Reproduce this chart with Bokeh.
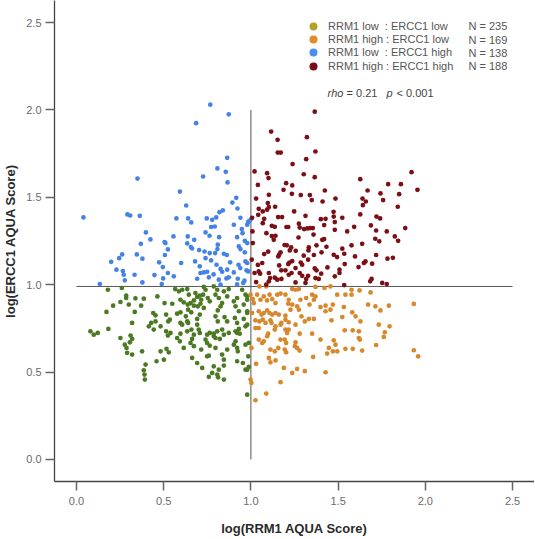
from bokeh.plotting import figure
from bokeh.models import FixedTicker, Legend, LegendItem, Label
from bokeh.embed import file_html
from bokeh.resources import INLINE

# ---------------- data ----------------
x_ticks = [0.0, 0.5, 1.0, 1.5, 2.0, 2.5]
x_tick_labels = ["0.0", "0.5", "1.0", "1.5", "2.0", "2.5"]
y_ticks = [0.0, 0.5, 1.0, 1.5, 2.0, 2.5]
y_tick_labels = ["0.0", "0.5", "1.0", "1.5", "2.0", "2.5"]

group_labels = ["RRM1 low  : ERCC1 low", "RRM1 high : ERCC1 low",
                "RRM1 low  : ERCC1 high", "RRM1 high : ERCC1 high"]
group_n = [235, 169, 138, 188]
rho_value = "0.21"
p_value = "0.001"

cut_x = 1.0            # vertical cut-point line (RRM1)
cut_y = 0.99           # horizontal cut-point line (ERCC1)
vline_y_span = [0.0, 2.0]
hline_x_span = [0.0, 2.5]

low_low = [  # RRM1 low : ERCC1 low
    (0.180,0.971),(0.260,0.981),(0.285,0.937),(0.285,0.924),(0.252,0.901),(0.338,0.922),
    (0.386,0.920),(0.464,0.933),(0.210,0.880),(0.300,0.886),(0.371,0.880),(0.505,0.895),
    (0.549,0.891),(0.172,0.844),(0.334,0.844),(0.440,0.838),(0.453,0.825),(0.514,0.829),
    (0.566,0.975),(0.587,0.962),(0.606,0.971),(0.635,0.975),(0.644,0.943),(0.682,0.952),
    (0.692,0.930),(0.707,0.937),(0.715,0.914),(0.726,0.943),(0.673,0.910),(0.654,0.895),
    (0.730,0.987),(0.740,0.971),(0.753,0.924),(0.764,0.905),(0.596,0.914),(0.615,0.899),
    (0.638,0.886),(0.673,0.880),(0.696,0.876),(0.711,0.891),(0.730,0.867),(0.787,0.990),
    (0.807,0.971),(0.797,0.943),(0.816,0.924),(0.845,0.962),(0.864,0.933),(0.873,0.975),
    (0.826,0.876),(0.810,0.853),(0.835,0.895),(0.902,0.905),(0.912,0.876),(0.931,0.848),
    (0.921,0.924),(0.950,0.971),(0.969,0.943),(0.979,0.914),(0.959,0.886),(0.979,0.838),
    (0.577,0.834),(0.596,0.842),(0.627,0.819),(0.640,0.857),(0.658,0.842),(0.526,0.790),
    (0.535,0.800),(0.596,0.781),(0.606,0.771),(0.635,0.790),(0.640,0.781),(0.692,0.804),
    (0.707,0.829),(0.797,0.819),(0.810,0.790),(0.849,0.815),(0.864,0.790),(0.908,0.810),
    (0.921,0.781),(0.959,0.804),(0.183,0.747),(0.080,0.733),(0.099,0.714),(0.122,0.724),
    (0.319,0.781),(0.415,0.762),(0.428,0.781),(0.443,0.743),(0.453,0.790),(0.514,0.733),
    (0.539,0.724),(0.524,0.709),(0.482,0.762),(0.596,0.720),(0.635,0.733),(0.659,0.743),
    (0.673,0.714),(0.701,0.743),(0.707,0.724),(0.692,0.771),(0.749,0.714),(0.764,0.724),
    (0.787,0.705),(0.807,0.733),(0.835,0.743),(0.845,0.714),(0.873,0.724),(0.912,0.733),
    (0.921,0.724),(0.931,0.747),(0.936,0.720),(0.969,0.762),(0.252,0.695),(0.310,0.709),
    (0.319,0.690),(0.306,0.670),(0.277,0.657),(0.287,0.638),(0.593,0.676),(0.577,0.695),
    (0.663,0.690),(0.654,0.667),(0.740,0.686),(0.749,0.667),(0.764,0.651),(0.787,0.720),
    (0.797,0.695),(0.822,0.690),(0.902,0.657),(0.921,0.638),(0.912,0.676),(0.925,0.619),
    (0.969,0.657),(0.988,0.667),(0.376,0.619),(0.290,0.610),(0.319,0.600),(0.482,0.619),
    (0.516,0.633),(0.529,0.613),(0.615,0.638),(0.673,0.648),(0.715,0.629),(0.749,0.590),
    (0.759,0.594),(0.797,0.638),(0.835,0.600),(0.864,0.629),(0.845,0.571),(0.921,0.562),
    (0.954,0.552),(0.663,0.581),(0.692,0.552),(0.459,0.562),(0.501,0.571),(0.396,0.543),
    (0.721,0.524),(0.787,0.533),(0.816,0.514),(0.845,0.537),(0.807,0.486),(0.778,0.495),
    (0.759,0.473),(0.812,0.470),(0.845,0.457),(0.969,0.514),(0.988,0.530),(0.386,0.510),
    (0.390,0.486),(0.392,0.457),(0.979,0.933),(0.979,0.848),(0.979,0.771),(0.985,0.590),
    (0.979,0.514),(0.979,0.371),
]

high_low = [  # RRM1 high : ERCC1 low
    (0.998,0.943),(1.011,0.918),(1.036,0.943),(1.055,0.914),(1.017,0.895),(1.074,0.933),
    (1.093,0.910),(1.107,0.943),(1.122,0.918),(1.141,0.895),(1.151,0.943),(1.170,0.949),
    (1.049,0.990),(1.088,0.990),(1.237,0.975),(1.256,0.971),(1.275,0.975),(1.370,0.987),
    (1.422,0.981),(1.456,0.990),(1.495,0.943),(1.542,0.943),(1.577,0.971),(1.623,0.967),
    (1.686,0.956),(1.577,0.943),(1.198,0.943),(1.217,0.914),(1.214,0.891),(1.237,0.886),
    (1.227,0.857),(1.265,0.876),(1.284,0.914),(1.275,0.857),(1.317,0.924),(1.336,0.886),
    (1.351,0.943),(1.370,0.933),(1.361,0.914),(1.399,0.872),(1.428,0.880),(1.428,0.848),
    (1.456,0.857),(1.470,0.886),(1.533,0.872),(1.581,0.842),(1.600,0.819),(1.628,0.790),
    (1.672,0.886),(1.714,0.876),(1.743,0.853),(1.791,0.880),(1.934,0.890),(1.007,0.838),
    (1.045,0.848),(1.061,0.829),(1.074,0.838),(1.093,0.853),(1.107,0.838),(1.122,0.829),
    (1.141,0.838),(1.160,0.829),(1.026,0.796),(1.049,0.790),(1.068,0.800),(1.084,0.781),
    (1.112,0.796),(1.118,0.781),(1.175,0.781),(1.198,0.823),(1.198,0.800),(1.217,0.785),
    (1.256,0.771),(1.290,0.819),(1.309,0.790),(1.332,0.804),(1.361,0.804),(1.462,0.796),
    (1.524,0.815),(1.026,0.752),(1.045,0.752),(1.141,0.762),(1.170,0.771),(1.099,0.720),
    (1.093,0.705),(1.137,0.743),(1.198,0.743),(1.217,0.743),(1.208,0.724),(1.280,0.720),
    (1.351,0.720),(1.399,0.686),(1.538,0.739),(1.584,0.739),(1.619,0.733),(1.619,0.695),
    (1.625,0.686),(1.733,0.771),(1.795,0.762),(1.768,0.728),(1.762,0.701),(1.045,0.686),
    (1.065,0.667),(1.074,0.676),(1.170,0.686),(1.194,0.686),(1.202,0.667),(1.256,0.670),
    (1.252,0.648),(1.265,0.638),(1.475,0.682),(1.485,0.657),(1.447,0.638),(1.470,0.619),
    (1.495,0.619),(1.003,0.638),(1.112,0.629),(1.137,0.619),(1.157,0.638),(1.194,0.629),
    (1.202,0.613),(1.279,0.623),(1.437,0.606),(1.542,0.633),(1.584,0.633),(1.638,0.623),
    (1.718,0.655),(1.934,0.625),(1.959,0.590),(1.103,0.581),(1.112,0.556),(1.141,0.567),
    (1.357,0.587),(1.030,0.547),(1.189,0.524),(1.237,0.495),(1.265,0.518),(1.309,0.505),
    (1.428,0.499),(0.998,0.457),(1.003,0.438),(1.170,0.442),(1.088,0.377),(1.026,0.339),
]

low_high = [  # RRM1 low : ERCC1 high
    (0.767,2.030),(0.873,1.975),(0.686,1.924),(0.864,1.726),(0.808,1.665),(0.856,1.646),
    (0.726,1.619),(0.350,1.607),(0.866,1.585),(0.593,1.533),(0.916,1.497),(0.894,1.470),
    (0.629,1.453),(0.839,1.425),(0.820,1.415),(0.923,1.436),(0.040,1.385),(0.292,1.402),
    (0.308,1.396),(0.363,1.394),(0.573,1.379),(0.640,1.379),(0.658,1.356),(0.747,1.379),
    (0.778,1.371),(0.801,1.385),(0.940,1.383),(0.984,1.358),(0.998,1.371),(0.772,1.330),
    (0.793,1.333),(0.902,1.343),(0.740,1.299),(0.763,1.280),(0.948,1.318),(0.952,1.295),
    (0.398,1.299),(0.424,1.259),(0.369,1.234),(0.556,1.276),(0.638,1.276),(0.675,1.257),
    (0.505,1.244),(0.510,1.238),(0.635,1.236),(0.818,1.272),(0.921,1.272),(0.965,1.251),
    (0.810,1.229),(0.524,1.202),(0.656,1.215),(0.663,1.207),(0.703,1.198),(0.734,1.190),
    (0.764,1.181),(0.795,1.181),(0.808,1.204),(0.845,1.177),(0.862,1.170),(0.931,1.219),
    (0.940,1.204),(0.965,1.185),(0.262,1.173),(0.245,1.152),(0.199,1.131),(0.346,1.173),
    (0.378,1.149),(0.474,1.128),(0.507,1.170),(0.495,1.101),(0.600,1.124),(0.680,1.133),
    (0.707,1.105),(0.740,1.152),(0.772,1.139),(0.803,1.114),(0.826,1.090),(0.864,1.086),
    (0.881,1.128),(0.929,1.114),(0.939,1.095),(0.969,1.133),(0.975,1.082),(0.229,1.086),
    (0.266,1.078),(0.271,1.057),(0.277,1.025),(0.333,1.057),(0.378,1.013),(0.447,1.055),
    (0.497,1.036),(0.524,1.067),(0.558,1.048),(0.134,1.004),(0.489,1.004),(0.692,1.034),
    (0.711,1.067),(0.730,1.070),(0.749,1.074),(0.759,1.042),(0.786,1.059),(0.816,1.029),
    (0.835,1.074),(0.860,1.036),(0.873,1.042),(0.902,1.070),(0.925,1.034),(0.956,1.010),
    (0.963,1.023),(0.826,1.000),(0.921,1.002),(0.988,1.362),(0.979,1.343),(0.979,1.238),
    (0.979,1.124),(0.985,1.076),
]

high_high = [  # RRM1 high : ERCC1 high
    (1.366,1.990),(1.116,1.876),(1.321,1.844),(1.153,1.829),(1.154,1.756),(1.171,1.756),
    (1.370,1.762),(1.317,1.718),(1.239,1.690),(1.021,1.648),(1.093,1.638),(1.101,1.610),
    (1.303,1.632),(1.366,1.615),(1.921,1.644),(1.627,1.604),(1.040,1.571),(1.202,1.581),
    (1.237,1.568),(1.787,1.575),(1.860,1.575),(1.187,1.543),(1.424,1.539),(1.669,1.539),
    (1.955,1.543),(1.743,1.522),(1.286,1.513),(1.338,1.513),(1.235,1.520),(1.103,1.514),
    (1.850,1.518),(1.030,1.493),(1.349,1.484),(1.411,1.476),(1.485,1.493),(1.640,1.493),
    (1.659,1.476),(1.758,1.484),(1.097,1.467),(1.139,1.446),(1.045,1.434),(1.068,1.419),
    (1.093,1.429),(1.103,1.444),(1.248,1.419),(1.474,1.417),(1.642,1.455),(1.842,1.446),
    (1.007,1.383),(1.042,1.400),(1.076,1.377),(1.156,1.387),(1.179,1.387),(1.313,1.394),
    (1.401,1.375),(1.428,1.377),(1.475,1.390),(1.524,1.383),(1.627,1.402),(1.720,1.390),
    (1.741,1.379),(1.068,1.352),(1.120,1.337),(1.137,1.331),(1.204,1.330),(1.214,1.330),
    (1.275,1.349),(1.280,1.327),(1.305,1.318),(1.324,1.322),(1.340,1.324),(1.355,1.324),
    (1.420,1.341),(1.481,1.358),(1.592,1.331),(1.688,1.339),(1.885,1.324),(1.009,1.305),
    (1.089,1.295),(1.120,1.278),(1.141,1.280),(1.273,1.270),(1.359,1.287),(1.409,1.257),
    (1.420,1.261),(1.481,1.314),(1.552,1.305),(1.718,1.310),(1.713,1.263),(1.736,1.248),
    (1.779,1.305),(1.825,1.276),(1.844,1.251),(1.011,1.238),(1.131,1.257),(1.193,1.227),
    (1.206,1.225),(1.231,1.213),(1.332,1.213),(1.330,1.196),(1.376,1.225),(1.433,1.217),
    (1.577,1.225),(1.638,1.234),(1.076,1.175),(1.099,1.189),(1.170,1.185),(1.157,1.162),
    (1.162,1.171),(1.223,1.196),(1.257,1.194),(1.303,1.166),(1.328,1.143),(1.361,1.170),
    (1.405,1.185),(1.475,1.171),(1.494,1.158),(1.535,1.177),(1.524,1.206),(1.538,1.118),
    (1.597,1.162),(1.718,1.170),(1.783,1.149),(1.814,1.154),(1.005,1.143),(1.065,1.124),
    (1.040,1.113),(1.162,1.110),(1.214,1.118),(1.221,1.127),(1.237,1.135),(1.286,1.127),
    (1.294,1.114),(1.174,1.082),(1.198,1.082),(1.256,1.095),(1.366,1.093),(1.376,1.082),
    (1.439,1.099),(1.508,1.086),(1.617,1.101),(1.648,1.124),(1.657,1.133),(1.695,1.120),
    (1.045,1.076),(1.021,1.067),(1.053,1.063),(1.103,1.067),(1.110,1.038),(1.137,1.040),
    (1.151,1.029),(1.175,1.033),(1.217,1.057),(1.233,1.067),(1.280,1.067),(1.294,1.051),
    (1.317,1.033),(1.328,1.051),(1.370,1.038),(1.389,1.033),(1.403,1.063),(1.481,1.048),
    (1.508,1.067),(1.684,1.019),(1.692,1.033),(1.753,1.010),(1.779,1.004),(1.030,1.015),
    (1.088,1.000),(1.103,1.019),(1.256,1.013),(1.313,1.010),(1.535,0.998),
]

# ---------------- styling ----------------
FONT = "Liberation Sans"
dot_colors = ["#4b7a22", "#d8872c", "#4682e6", "#7a1016"]
legend_colors = ["#b3a12a", "#e08c2c", "#4a8ff0", "#7a0e14"]
groups = [low_low, high_low, low_high, high_high]

p = figure(width=534, height=538, x_range=(-0.126, 2.626), y_range=(-0.126, 2.626),
           output_backend="svg", toolbar_location=None,
           min_border_left=54, min_border_right=0, min_border_top=0, min_border_bottom=56)
p.outline_line_color = None
p.grid.visible = False
p.background_fill_color = "white"

for ax, ticks, labels, title in ((p.xaxis[0], x_ticks, x_tick_labels, "log(RRM1 AQUA Score)"),
                                 (p.yaxis[0], y_ticks, y_tick_labels, "log(ERCC1 AQUA Score)")):
    ax.ticker = FixedTicker(ticks=ticks)
    ax.major_label_overrides = {t: l for t, l in zip(ticks, labels)}
    ax.axis_label = title
    ax.axis_label_text_font = FONT
    ax.axis_label_text_font_style = "bold"
    ax.axis_label_text_font_size = "13px"
    ax.axis_label_text_color = "#2a2a2a"
    ax.major_label_text_font = FONT
    ax.major_label_text_font_size = "11px"
    ax.major_label_text_color = "#6a6a6a"
    ax.axis_line_color = "#444444"
    ax.axis_line_width = 1.3
    ax.major_tick_line_color = "#666666"
    ax.major_tick_line_width = 1.5
    ax.major_tick_in = 0
    ax.major_tick_out = 9
    ax.minor_tick_line_color = None

p.xaxis.major_label_standoff = 6
p.xaxis.axis_label_standoff = 13
p.yaxis.major_label_standoff = 4
p.yaxis.axis_label_standoff = 5

# cut-point lines
p.segment(x0=[hline_x_span[0]], y0=[cut_y], x1=[hline_x_span[1]], y1=[cut_y],
          line_color="#555555", line_width=1)
p.segment(x0=[cut_x], y0=[vline_y_span[0]], x1=[cut_x], y1=[vline_y_span[1]],
          line_color="#555555", line_width=1)

# scatter points
for pts, col in zip(groups, dot_colors):
    xs = [a for a, b in pts]
    ys = [b for a, b in pts]
    p.scatter(xs, ys, size=4.7, marker="circle", fill_color=col, line_color=None)

# legend: one single-item legend per row so the key markers can be larger than
# the row pitch would otherwise allow (renderers hold a single non-plotted point)
nan = float("nan")
row_center = [455.3, 442.0, 428.7, 415.5]   # screen px above the frame bottom
for lab, col, n, yc in zip(group_labels, legend_colors, group_n, row_center):
    r = p.scatter(x=[nan], y=[nan], size=8, marker="circle", fill_color=col, line_color=None)
    leg = Legend(items=[LegendItem(label=lab, renderers=[r])], location=(249, yc - 10),
                 padding=0, margin=0, spacing=0,
                 glyph_width=20, glyph_height=20, label_height=20, label_standoff=5,
                 label_text_font=FONT, label_text_font_size="11px", label_text_color="#555555",
                 border_line_color=None, background_fill_alpha=0)
    p.add_layout(leg, "center")
    p.add_layout(Label(x=414, y=yc, x_units="screen", y_units="screen", text=f"N = {n}",
                       text_font=FONT, text_font_size="11px", text_color="#555555",
                       text_baseline="middle"))

rho_parts = [("rho", "italic", 273), (f"= {rho_value}", "normal", 292),
             ("p", "italic", 332), (f"< {p_value}", "normal", 342)]
for txt, style, xx in rho_parts:
    p.add_layout(Label(x=xx, y=389, x_units="screen", y_units="screen", text=txt,
                       text_font=FONT, text_font_size="11px", text_font_style=style,
                       text_color="#444444", text_baseline="middle"))

open("out.html", "w").write(file_html(p, INLINE))
